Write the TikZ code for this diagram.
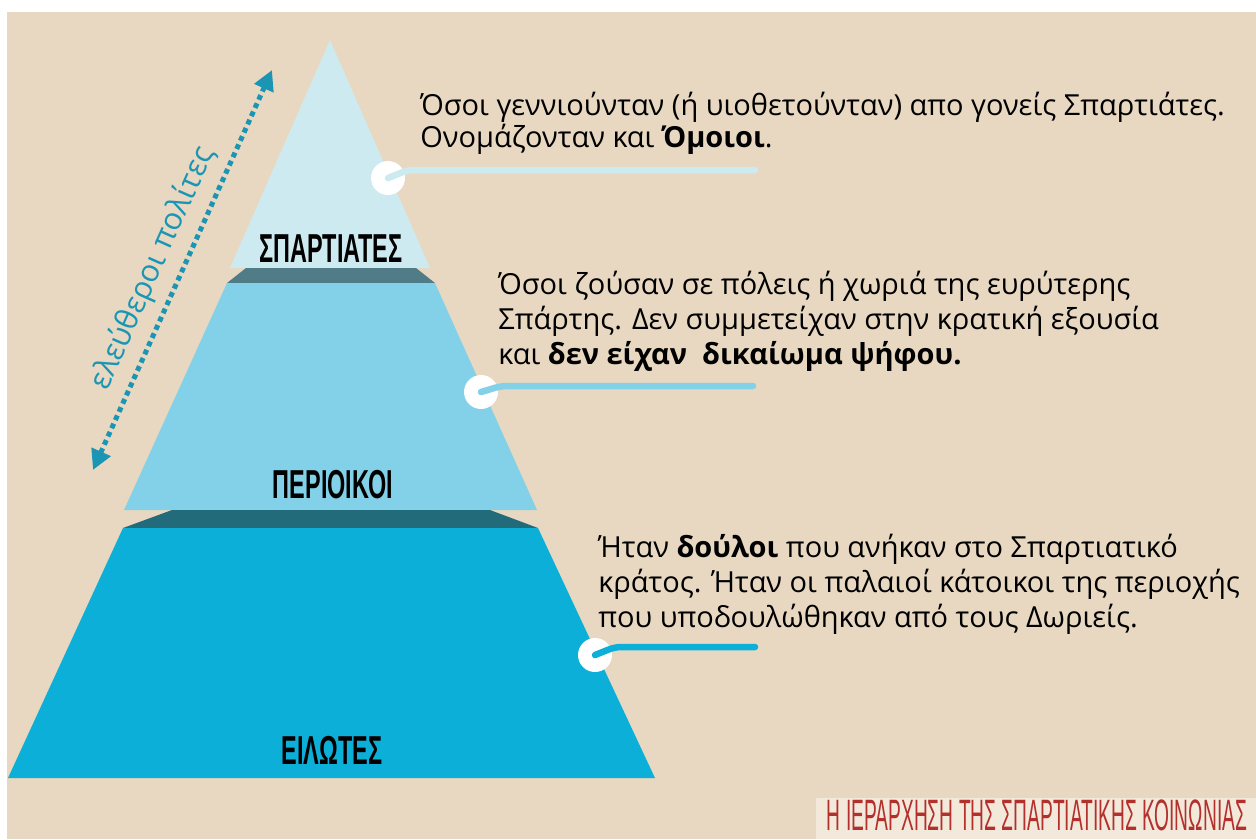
\documentclass[tikz,border=0pt]{standalone}
\usepackage{fontspec}
\setmainfont{Open Sans}
\newfontfamily\etagefont[FakeStretch=0.58]{Liberation Sans}
\newfontfamily\titrefont[FakeStretch=0.437]{Liberation Sans}
\usetikzlibrary{arrows.meta}
\definecolor{fond}{HTML}{E8D8C1}
\definecolor{boite}{HTML}{F3E9DB}
\definecolor{haut}{HTML}{CDEAF0}
\definecolor{bandeA}{HTML}{4F7C86}
\definecolor{milieu}{HTML}{82D1E8}
\definecolor{bandeB}{HTML}{216B7B}
\definecolor{bas}{HTML}{0BAFD8}
\definecolor{sarcelle}{HTML}{1A96B4}
\definecolor{rouge}{HTML}{B3302C}
\begin{document}
\begin{tikzpicture}[x=0.02cm, y=-0.02cm]
\tikzstyle{niveau} = [inner sep=0pt, font=\etagefont\bfseries\fontsize{23}{23}\selectfont]
\tikzstyle{texte} = [anchor=base west, align=left, inner sep=0pt, font=\fontsize{16.5}{19.9}\selectfont]
\tikzstyle{pastille} = [circle, fill=white, inner sep=0pt, minimum size=0.68cm]
\tikzstyle{lien} = [line width=0.13cm, line cap=round, rounded corners=0.12cm]
\tikzstyle{fleche} = [sarcelle, line width=0.1cm, dash pattern=on 0.1cm off 0.08cm, {Triangle[length=0.4cm, width=0.4cm]}-{Triangle[length=0.4cm, width=0.4cm]}]
\useasboundingbox (0,0) rectangle (1256,839);
\fill[white] (0,0) rectangle (1256,839);
\fill[fond] (7,12) rectangle (1256,839);
\fill[haut] (330,40) -- (430,268) -- (230,268) -- cycle;
\fill[bandeA] (246,268) -- (416,268) -- (435,283) -- (227,283) -- cycle;
\fill[milieu] (227,283) -- (435,283) -- (537,510) -- (124,510) -- cycle;
\fill[bandeB] (172,510) -- (490,510) -- (538,528) -- (123,528) -- cycle;
\fill[bas] (123,528) -- (538,528) -- (655,778) -- (8,778) -- cycle;
\node[niveau] (spartiates) at (331,249) {ΣΠΑΡΤΙΑΤΕΣ};
\node[niveau] (perioikoi) at (333,485) {ΠΕΡΙΟΙΚΟΙ};
\node[niveau] (eilotes) at (332,750) {ΕΙΛΩΤΕΣ};
\coordinate (basF) at (93,470);
\coordinate (hautF) at (272,70);
\draw[fleche] (basF) -- (hautF);
\node[sarcelle, rotate=66, font=\fontsize{17.5}{17.5}\selectfont] (libres) at (153,268) {ελεύθεροι πολίτες};
\node[pastille] (p1) at (388,178) {};
\node[pastille] (p2) at (481,392) {};
\node[pastille] (p3) at (595,655) {};
\coordinate (c1) at (755,170);
\coordinate (c2) at (753,386);
\coordinate (c3) at (755,647);
\draw[lien, haut] (p1.center) -- (408,170) -- (c1);
\draw[lien, milieu] (p2.center) -- (501,386) -- (c2);
\draw[lien, bas] (p3.center) -- (615,647) -- (c3);
\node[texte, font=\fontsize{16.5}{18.2}\selectfont] (t1) at (420,147) {Όσοι γεννιούνταν (ή υιοθετούνταν) απο γονείς Σπαρτιάτες.\\Ονομάζονταν και \textbf{Όμοιοι}.};
\node[texte] (t2) at (498,364) {Όσοι ζούσαν σε πόλεις ή χωριά της ευρύτερης\\Σπάρτης. Δεν συμμετείχαν στην κρατική εξουσία\\και \textbf{δεν είχαν\ \ δικαίωμα ψήφου.}};
\node[texte] (t3) at (598,627) {Ήταν \textbf{δούλοι} που ανήκαν στο Σπαρτιατικό\\κράτος. Ήταν οι παλαιοί κάτοικοι της περιοχής\\που υποδουλώθηκαν από τους Δωριείς.};
\fill[boite] (816,798) rectangle (1256,839);
\node[rouge, inner sep=0pt, font=\titrefont\fontsize{25}{25}\selectfont] (titre) at (1037,815) {Η ΙΕΡΑΡΧΗΣΗ ΤΗΣ ΣΠΑΡΤΙΑΤΙΚΗΣ ΚΟΙΝΩΝΙΑΣ};
\end{tikzpicture}
\end{document}
